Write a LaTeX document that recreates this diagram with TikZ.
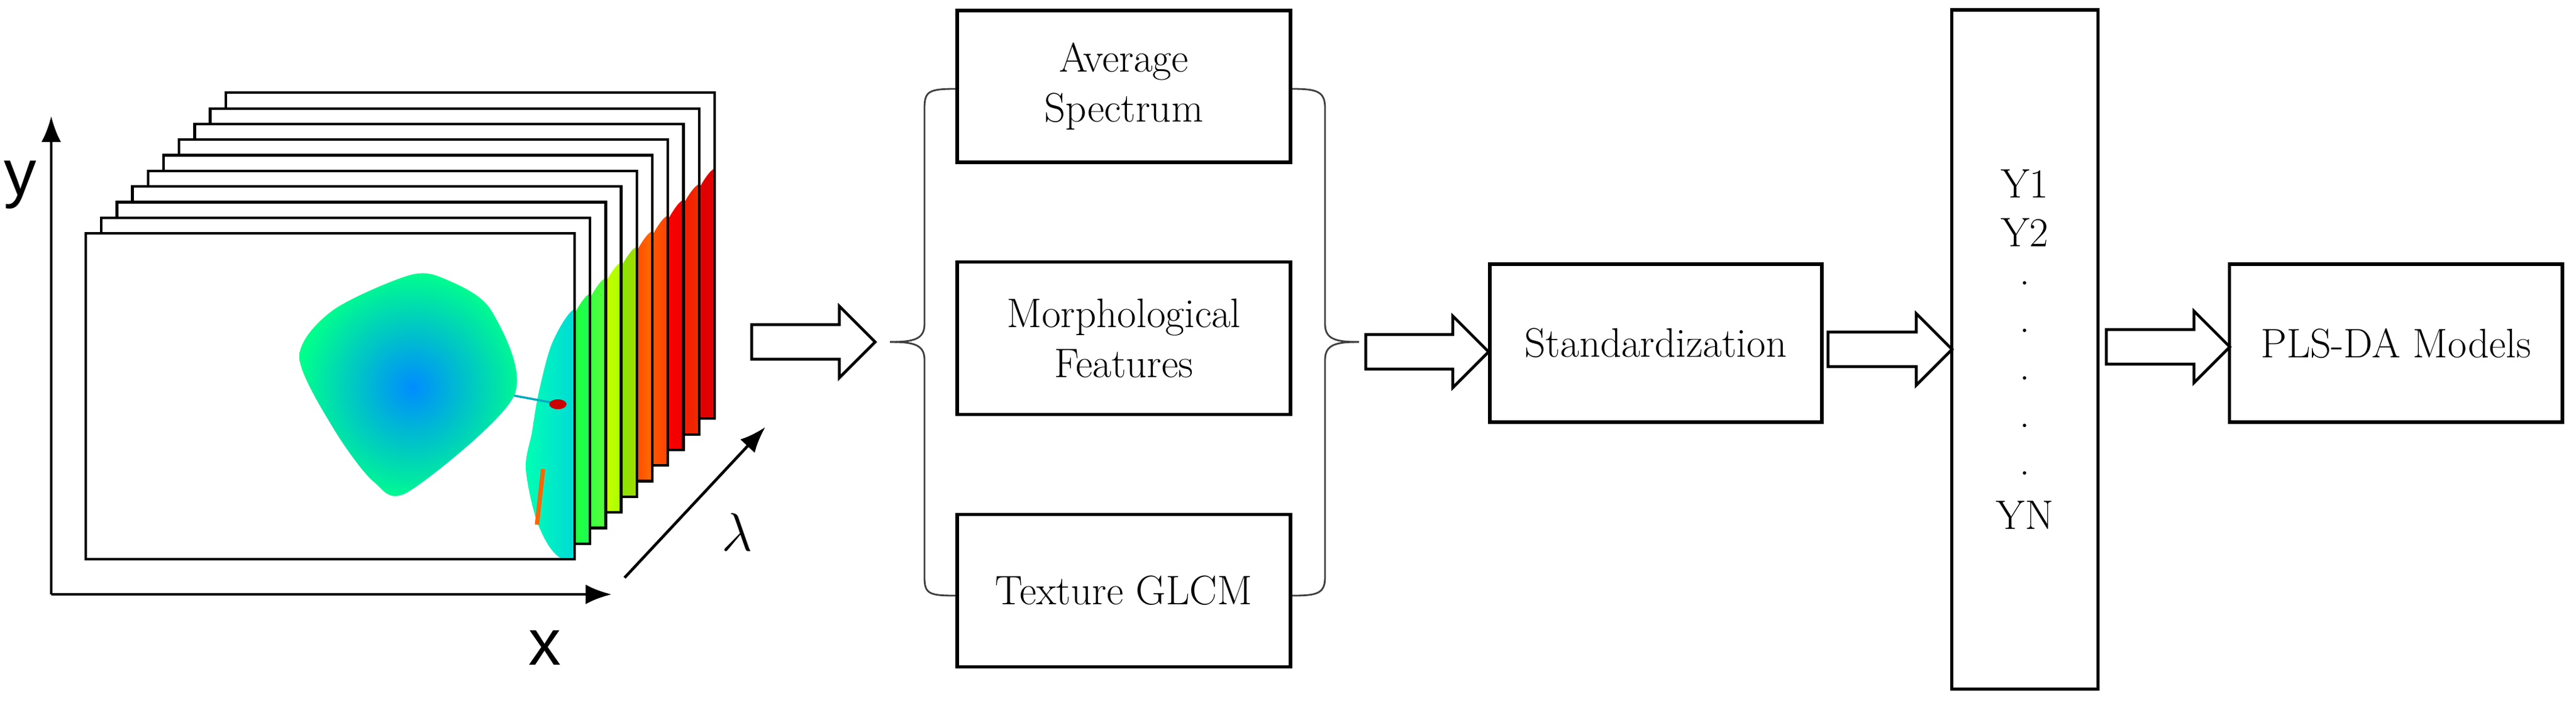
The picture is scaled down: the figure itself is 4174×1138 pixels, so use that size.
\documentclass[tikz,border=0pt]{standalone}
\usepackage{fontspec}
\usetikzlibrary{arrows.meta}
\newfontfamily\axfont{Liberation Sans}
\newcommand{\blockarr}[3]{% x1, x2, yc
  \draw[barrow] (#1,#3-28) -- (#2-58,#3-28) -- (#2-58,#3-58) -- (#2,#3) -- (#2-58,#3+58) -- (#2-58,#3+28) -- (#1,#3+28) -- cycle;}
\begin{document}
\begin{tikzpicture}[x=0.01cm,y=-0.01cm,
  box/.style={draw,line width=1.6pt,inner sep=0pt,align=center,font=\fontsize{19}{23}\selectfont},
  frame/.style={draw,line width=1.2pt},
  barrow/.style={draw,line width=1.3pt,fill=white,line join=miter},
  brace/.style={draw,line width=0.8pt,black!75},
  axis/.style={line width=1.3pt,-{Latex[length=0.42cm,width=0.32cm]}},
  ylab/.style={font=\fontsize{19}{23}\selectfont}]
\useasboundingbox (0,0) rectangle (4174,1138);
% ---------- hyperspectral stack ----------
\foreach \k/\ca/\cb in {9/red/red!80!black,8/orange!70!red/red!90!black,7/red!90!black/red,6/red/orange,5/yellow!80!orange/red,4/orange!60!yellow/green!70!yellow,3/green!70!yellow/yellow,2/yellow!70!green/green!60!cyan,1/cyan!70!green/green!80!yellow,0/cyan!70!blue/cyan!70!green}{
  \begin{scope}[shift={(25.2*\k,-25.3*\k)}]
    \fill[white] (139,378) rectangle (931,906);
    \begin{scope}
      \clip (139,378) rectangle (931,906);
      \shade[left color=\cb,right color=\ca] plot[smooth cycle,tension=0.5] coordinates {(872,640)(893,560)(925,505)(965,490)(1005,480)(1005,906)(912,906)(872,850)(852,760)(862,700)};
      \ifnum\k=0
        \shade[inner color=blue!45!cyan,outer color=cyan!55!green] plot[smooth cycle,tension=0.5] coordinates {(485,578)(539,503)(663,446)(721,452)(796,503)(833,641)(663,796)(605,780)(539,692)};
        \draw[cyan!70!green,line width=1pt] (833,641) -- (893,652);
        \fill[red!80!black] (904,655) ellipse (14 and 8);
        \draw[orange!80!red,line width=2pt] (880,760) -- (870,850);
      \fi
    \end{scope}
    \draw[frame] (139,378) rectangle (931,906);
  \end{scope}}
% axes
\coordinate (o) at (83,963);
\coordinate (ytip) at (83,188);
\coordinate (xtip) at (991,963);
\coordinate (ls) at (1012,936);
\coordinate (le) at (1240,692);
\draw[axis] (o) -- (ytip);
\draw[axis] (o) -- (xtip);
\draw[axis] (ls) -- (le);
\node[font=\axfont\fontsize{30}{34}\selectfont] (ylbl) at (33,300) {y};
\node[font=\axfont\fontsize{30}{34}\selectfont] (xlbl) at (883,1050) {x};
\node[font=\fontsize{40}{44}\selectfont] (lam) at (1194,862) {$\lambda$};
% ---------- feature boxes ----------
\node[box,minimum width=5.40cm,minimum height=2.46cm] (avg) at (1821,140) {Average\\Spectrum};
\node[box,minimum width=5.40cm,minimum height=2.47cm] (mor) at (1821,548) {Morphological\\Features};
\node[box,minimum width=5.40cm,minimum height=2.47cm] (tex) at (1821,957) {Texture GLCM};
\node[box,minimum width=5.38cm,minimum height=2.56cm] (std) at (2683,556) {Standardization};
\node[box,minimum width=2.37cm,minimum height=11.0cm] (ybox) at (3281,566) {};
\node[box,minimum width=5.39cm,minimum height=2.56cm] (pls) at (3882,556) {PLS-DA Models};
\node[ylab] (y1) at (3281,298) {Y1};
\node[ylab] (y2) at (3281,377) {Y2};
\foreach \i/\yy in {1/467,2/544,3/621,4/698,5/775}{\node[ylab] (d\i) at (3281,\yy-8) {.};}
\node[ylab] (yn) at (3281,835) {YN};
% braces
\coordinate (lb) at (1442,554);
\coordinate (rb) at (2202,554);
\draw[brace] (avg.west |- 0,144) .. controls (1505,144) and (1498,148) .. (1498,175) -- (1498,525)
  .. controls (1498,550) and (1480,554) .. (lb);
\draw[brace] (lb) .. controls (1480,554) and (1498,558) .. (1498,583) -- (1498,935)
  .. controls (1498,962) and (1505,965) .. (tex.west |- 0,965);
\draw[brace] (avg.east |- 0,144) .. controls (2134,144) and (2147,148) .. (2147,175) -- (2147,525)
  .. controls (2147,550) and (2165,554) .. (rb);
\draw[brace] (rb) .. controls (2165,554) and (2147,558) .. (2147,583) -- (2147,935)
  .. controls (2147,962) and (2134,965) .. (tex.east |- 0,965);
% block arrows
\blockarr{1218}{1418}{554}
\blockarr{2213}{2412}{570}
\blockarr{2962}{3163}{566}
\blockarr{3413}{3613}{562}
\end{tikzpicture}
\end{document}
